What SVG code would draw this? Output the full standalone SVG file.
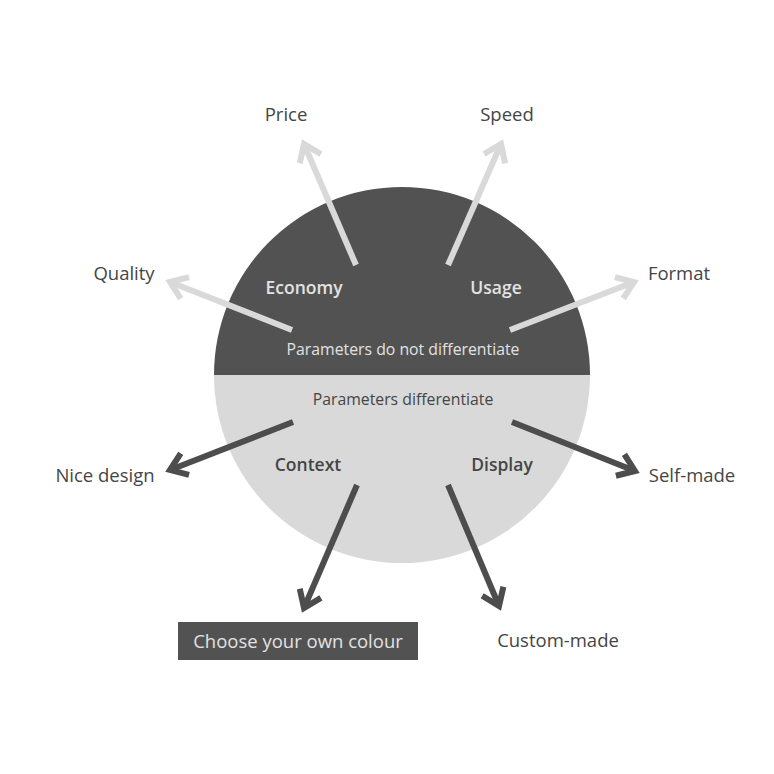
<svg xmlns="http://www.w3.org/2000/svg" width="774" height="774" viewBox="0 0 774 774">
<style>
text{font-family:"Open Sans","Noto Sans","DejaVu Sans",sans-serif;font-size:18.5px;text-anchor:middle;dominant-baseline:central}
.lbl{fill:#454545}
.in{fill:#e2e2e2}
.sub{font-size:15.8px}
.cat{font-weight:600;font-size:17.5px}
.la{stroke:#d9d9d9;stroke-width:6;fill:none}
.da{stroke:#4d4d4d;stroke-width:6;fill:none}
</style>
<defs>
<marker id="mL" markerUnits="userSpaceOnUse" markerWidth="60" markerHeight="60" refX="0" refY="0" viewBox="-30 -30 60 60" orient="auto" overflow="visible">
<path d="M-16,-11.5 L0,0 L-16,11.5" fill="none" stroke="#d9d9d9" stroke-width="6"/>
</marker>
<marker id="mD" markerUnits="userSpaceOnUse" markerWidth="60" markerHeight="60" refX="0" refY="0" viewBox="-30 -30 60 60" orient="auto" overflow="visible">
<path d="M-16,-11.5 L0,0 L-16,11.5" fill="none" stroke="#4d4d4d" stroke-width="6"/>
</marker>
</defs>
<rect width="774" height="774" fill="#ffffff"/>
<g id="circle">
<path d="M214,375 A188,188 0 0 1 590,375 Z" fill="#525252"/>
<path d="M214,375 A188,188 0 0 0 590,375 Z" fill="#d9d9d9"/>
</g>
<g id="connectors">
<line class="la" x1="356" y1="265" x2="304" y2="144" marker-end="url(#mL)"/>
<line class="la" x1="448" y1="265" x2="501" y2="144" marker-end="url(#mL)"/>
<line class="la" x1="292" y1="330" x2="170" y2="282" marker-end="url(#mL)"/>
<line class="la" x1="510" y1="330" x2="634" y2="282" marker-end="url(#mL)"/>
<line class="da" x1="293" y1="422" x2="170" y2="470" marker-end="url(#mD)"/>
<line class="da" x1="357" y1="485" x2="304" y2="608" marker-end="url(#mD)"/>
<line class="da" x1="512" y1="422" x2="635" y2="471" marker-end="url(#mD)"/>
<line class="da" x1="448" y1="485" x2="499" y2="606" marker-end="url(#mD)"/>
</g>
<g id="top-half-labels">
<text class="in cat" x="304" y="287">Economy</text>
<text class="in cat" x="496" y="287">Usage</text>
<text class="in sub" x="403" y="349">Parameters do not differentiate</text>
</g>
<g id="bottom-half-labels">
<text class="lbl sub" x="403" y="399">Parameters differentiate</text>
<text class="lbl cat" x="308" y="464">Context</text>
<text class="lbl cat" x="502" y="464">Display</text>
</g>
<g id="node-price"><text class="lbl" x="286" y="113">Price</text></g>
<g id="node-speed"><text class="lbl" x="507" y="113">Speed</text></g>
<g id="node-quality"><text class="lbl" x="124" y="272">Quality</text></g>
<g id="node-format"><text class="lbl" x="679" y="272">Format</text></g>
<g id="node-nice-design"><text class="lbl" x="105" y="474">Nice design</text></g>
<g id="node-self-made"><text class="lbl" x="692" y="474">Self-made</text></g>
<g id="node-custom-made"><text class="lbl" x="558" y="639">Custom-made</text></g>
<g id="node-choose">
<rect x="178" y="622" width="240" height="38" fill="#525252"/>
<text class="in" x="298" y="640">Choose your own colour</text>
</g>
</svg>
